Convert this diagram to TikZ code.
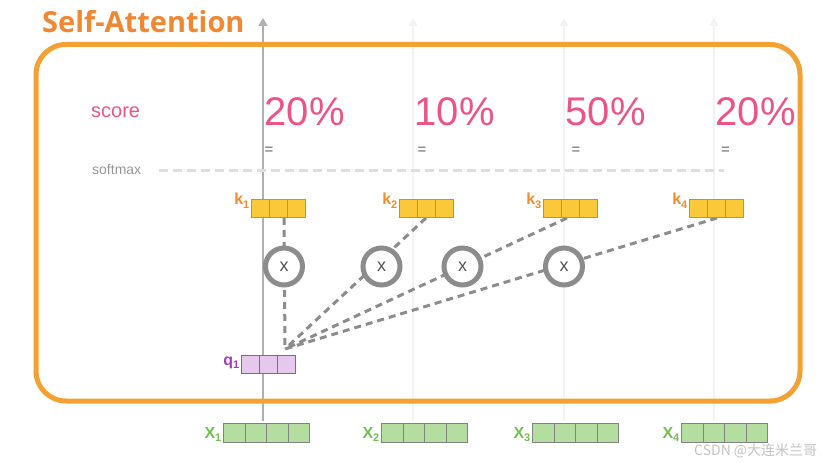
\documentclass[tikz,border=0pt]{standalone}
\usepackage{fontspec}
\setmainfont{Liberation Sans}
\newfontfamily\titlefont{Open Sans}
\newfontfamily\cjkfont{Noto Sans CJK SC}
\usetikzlibrary{arrows.meta}
\definecolor{boxorange}{RGB}{245,160,50}
\definecolor{titleorange}{RGB}{240,135,50}
\definecolor{scorepink}{RGB}{236,84,136}
\definecolor{kyellow}{RGB}{249,201,58}
\definecolor{korange}{RGB}{242,140,40}
\definecolor{qpurple}{RGB}{165,60,185}
\definecolor{qfill}{RGB}{230,200,236}
\definecolor{xgreen}{RGB}{112,192,80}
\definecolor{xfill}{RGB}{180,222,160}
\definecolor{connGray}{RGB}{140,140,140}
\definecolor{cellBorder}{RGB}{150,150,150}
\newcommand\subn[1]{\raisebox{-0.2em}{\fontsize{11}{11}\selectfont #1}}
\begin{document}
\begin{tikzpicture}[x=1pt,y=-1pt,
  guidedark/.style={draw={rgb,255:red,175;green,175;blue,175}, line width=2pt, -{Triangle[width=9pt,length=8pt]}},
  guidelight/.style={draw={rgb,255:red,243;green,243;blue,243}, line width=2pt, -{Triangle[width=9pt,length=8pt]}},
  frame/.style={draw=boxorange, line width=5pt, rounded corners=30pt},
  pct/.style={text=scorepink, font=\fontsize{40}{40}\selectfont, inner sep=0pt, anchor=base west},
  eqs/.style={text={rgb,255:red,100;green,100;blue,100}, font=\fontsize{15}{15}\selectfont, inner sep=0pt},
  smline/.style={draw={rgb,255:red,222;green,222;blue,222}, line width=3pt, dash pattern=on 9pt off 5pt},
  conn/.style={draw=connGray, line width=3pt, dash pattern=on 7pt off 5pt},
  mult/.style={circle, draw=connGray, line width=5pt, fill=white, minimum size=37pt, inner sep=0pt,
    text={rgb,255:red,85;green,85;blue,85}, font=\fontsize{18}{18}\selectfont},
  kcell/.style={draw=cellBorder, line width=1pt, fill=kyellow, minimum width=18pt, minimum height=18.5pt, inner sep=0pt, outer sep=0pt},
  qcell/.style={draw={rgb,255:red,120;green,110;blue,125}, line width=1pt, fill=qfill, minimum width=18pt, minimum height=18pt, inner sep=0pt, outer sep=0pt},
  xcell/.style={draw={rgb,255:red,130;green,130;blue,130}, line width=1pt, fill=xfill, minimum width=21.5pt, minimum height=18.5pt, inner sep=0pt, outer sep=0pt},
  klab/.style={text=korange, font=\fontsize{16}{16}\selectfont\bfseries, inner sep=0pt, anchor=base east},
  qlab/.style={text=qpurple, font=\fontsize{16}{16}\selectfont\bfseries, inner sep=0pt, anchor=base east},
  xlab/.style={text=xgreen, font=\fontsize{16}{16}\selectfont\bfseries, inner sep=0pt, anchor=base east},
]
\useasboundingbox (0,0) rectangle (838,465);

% guide lines
\coordinate (g1b) at (263,421); \coordinate (g1t) at (263,18);
\coordinate (g2b) at (413,421); \coordinate (g2t) at (413,18);
\coordinate (g3b) at (564,421); \coordinate (g3t) at (564,18);
\coordinate (g4b) at (714,421); \coordinate (g4t) at (714,18);
\draw[guidelight] (g2b) -- (g2t);
\draw[guidelight] (g3b) -- (g3t);
\draw[guidelight] (g4b) -- (g4t);
\draw[guidedark] (g1b) -- (g1t);

% frame and title
\draw[frame] (36,44.5) rectangle (800,401);
\node[text=titleorange, font=\titlefont\bfseries\fontsize{29}{29}\selectfont, inner sep=0pt, anchor=base west] (title) at (42,33) {Self-Attention};

% score row
\node[text=scorepink, font=\fontsize{20}{20}\selectfont, inner sep=0pt, anchor=base west] (score) at (91,117.5) {score};
\node[pct] (p1) at (264.5,125.5) {20\%};
\node[pct] (p2) at (414.5,125.5) {10\%};
\node[pct] (p3) at (565.5,125.5) {50\%};
\node[pct] (p4) at (715.5,125.5) {20\%};
\node[eqs] (e1) at (269,151) {=};
\node[eqs] (e2) at (422,151) {=};
\node[eqs] (e3) at (576,151) {=};
\node[eqs] (e4) at (725.5,151) {=};

% softmax
\node[text={rgb,255:red,150;green,150;blue,150}, font=\fontsize{14}{14}\selectfont, inner sep=0pt, anchor=base west] (softmax) at (92,175) {softmax};
\coordinate (sm1) at (159,171); \coordinate (sm2) at (724,171);
\draw[smline] (sm1) -- (sm2);

% connectors
\coordinate (k1d) at (284,218);
\coordinate (k2d) at (426,218);
\coordinate (k3d) at (567,218);
\coordinate (k4d) at (717,218);
\coordinate (qp) at (285,349);
\draw[conn] (k1d) -- (qp);
\draw[conn] (k2d) -- (qp);
\draw[conn] (k3d) -- (qp);
\draw[conn] (k4d) -- (qp);

% multiplication circles
\node[mult] (m1) at (284,266.5) {x};
\node[mult] (m2) at (381.5,266.5) {x};
\node[mult] (m3) at (462.5,266.5) {x};
\node[mult] (m4) at (564,266.5) {x};

% key vectors
\foreach \n/\x in {1/251.5,2/399.5,3/543.5,4/689.5} {
  \foreach \i in {0,1,2}
    \node[kcell, anchor=north west] (k\n-\i) at ({\x+\i*18},199.5) {};
  \node[klab] (kl\n) at ({\x-2},205) {k\subn{\n}};
}

% query vector
\foreach \i in {0,1,2}
  \node[qcell, anchor=north west] (q1-\i) at ({241.5+\i*18},355.5) {};
\node[qlab] (ql1) at (239.5,365) {q\subn{1}};

% input vectors
\foreach \n/\x in {1/223.5,2/381.5,3/532.5,4/681.5} {
  \foreach \i in {0,1,2,3}
    \node[xcell, anchor=north west] (x\n-\i) at ({\x+\i*21.5},423.5) {};
  \node[xlab] (xl\n) at ({\x-2},438.5) {X\subn{\n}};
}

% watermark
\node[text={rgb,255:red,195;green,195;blue,195}, font=\cjkfont\fontsize{14}{14}\selectfont, inner sep=0pt, anchor=base west] (wm) at (694,455) {CSDN @大连米兰哥};
\end{tikzpicture}
\end{document}
